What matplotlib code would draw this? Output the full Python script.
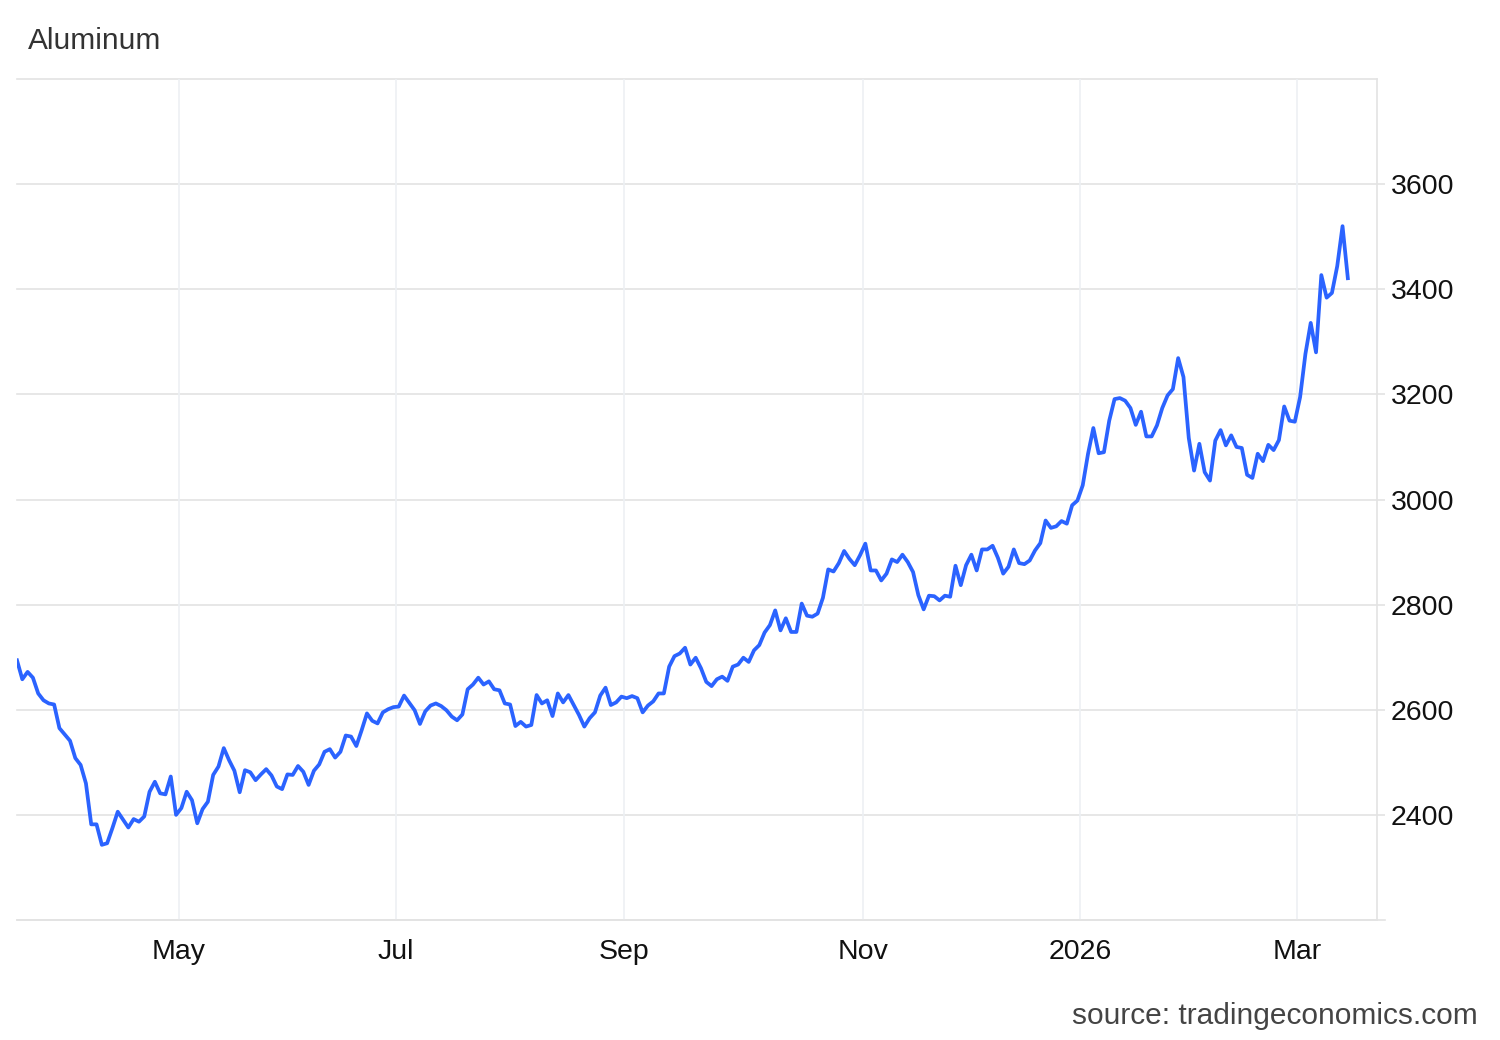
import matplotlib
matplotlib.use("Agg")
import matplotlib.pyplot as plt
import numpy as np
import pandas as pd

plt.rcParams['font.family'] = ['Liberation Sans', 'DejaVu Sans']

title = "Aluminum"
source = "source: tradingeconomics.com"

# trading days of the series (LME calendar, holidays removed)
start_date = "2025-03-17"
end_date = "2026-03-13"
holidays = ["2025-04-18", "2025-04-21", "2025-05-05", "2025-05-26",
            "2025-08-25", "2025-12-25", "2025-12-26", "2026-01-01"]

# USD/t, one value per trading day
prices = [
    2694, 2658, 2672, 2661, 2631, 2618, 2612, 2610, 2565, 2553,
    2541, 2508, 2495, 2460, 2382, 2382, 2343, 2346, 2375, 2406,
    2391, 2376, 2392, 2387, 2397, 2444, 2463, 2441, 2439, 2473,
    2400, 2413, 2444, 2428, 2384, 2411, 2425, 2476, 2492, 2527,
    2504, 2484, 2443, 2485, 2481, 2466, 2477, 2487, 2475, 2454,
    2449, 2477, 2476, 2493, 2482, 2457, 2484, 2496, 2520, 2525,
    2509, 2520, 2551, 2549, 2531, 2561, 2593, 2579, 2574, 2595,
    2601, 2605, 2606, 2627, 2613, 2599, 2573, 2597, 2608, 2612,
    2607, 2599, 2587, 2580, 2591, 2639, 2648, 2661, 2648, 2654,
    2639, 2637, 2612, 2610, 2569, 2577, 2568, 2571, 2628, 2612,
    2618, 2588, 2631, 2614, 2628, 2609, 2590, 2568, 2584, 2595,
    2627, 2642, 2609, 2614, 2625, 2622, 2626, 2622, 2595, 2608,
    2616, 2631, 2631, 2682, 2702, 2707, 2718, 2686, 2699, 2679,
    2653, 2645, 2658, 2663, 2655, 2682, 2686, 2699, 2691, 2713,
    2723, 2747, 2761, 2789, 2751, 2774, 2748, 2748, 2802, 2779,
    2777, 2783, 2813, 2867, 2863, 2879, 2902, 2887, 2875, 2894,
    2916, 2865, 2865, 2846, 2859, 2886, 2881, 2895, 2881, 2862,
    2818, 2791, 2817, 2816, 2808, 2817, 2815, 2874, 2837, 2875,
    2895, 2865, 2905, 2905, 2912, 2889, 2859, 2872, 2905, 2879,
    2877, 2884, 2903, 2917, 2960, 2946, 2949, 2959, 2954, 2989,
    2998, 3027, 3087, 3136, 3088, 3090, 3150, 3191, 3193, 3188,
    3174, 3142, 3167, 3120, 3120, 3141, 3174, 3198, 3210, 3269,
    3233, 3117, 3055, 3106, 3052, 3036, 3112, 3132, 3103, 3122,
    3100, 3098, 3047, 3041, 3087, 3073, 3104, 3094, 3113, 3177,
    3150, 3148, 3195, 3277, 3336, 3280, 3427, 3384, 3393, 3444,
    3520, 3421,
]

tick_months = ["2025-05-01", "2025-07-01", "2025-09-01",
               "2025-11-01", "2026-01-01", "2026-03-01"]
tick_labels = ["May", "Jul", "Sep", "Nov", "2026", "Mar"]

y_labels = [2400, 2600, 2800, 3000, 3200, 3400, 3600]
y_grid = [2200, 2400, 2600, 2800, 3000, 3200, 3400, 3600, 3800]

days = pd.bdate_range(start_date, end_date)
days = days[~days.isin(pd.to_datetime(holidays))]
x = np.arange(len(prices))
tick_pos = [np.searchsorted(days.values, np.datetime64(m)) - 0.5 for m in tick_months]

fig = plt.figure(figsize=(15, 10.4), dpi=100)
ax = fig.add_axes([17 / 1500, 1 - 920 / 1040, 1360 / 1500, 841 / 1040])

hgrid = "#e3e3e3"
vgrid = "#edf0f4"

for g in y_grid:
    ax.axhline(g, color=hgrid, lw=1.2, zorder=1, clip_on=False)
for t in tick_pos:
    ax.axvline(t, color=vgrid, lw=1.2, zorder=1)

ax.plot(x, prices, color="#2b63ff", lw=2.7, zorder=3, solid_joinstyle="round")

ax.set_xlim(0, 256.5)
ax.set_ylim(2200, 3800)

ax.set_xticks(tick_pos)
ax.set_xticklabels(tick_labels)
ax.tick_params(axis="x", length=0, pad=14, labelsize=20.5, labelcolor="#111111")

ax.yaxis.tick_right()
ax.set_yticks(y_labels)
ax.set_yticklabels([str(v) for v in y_labels])
ax.tick_params(axis="y", length=6, width=1.2, color=hgrid, pad=4,
               labelsize=20.5, labelcolor="#111111")

for side in ["top", "left"]:
    ax.spines[side].set_visible(False)
ax.spines["right"].set_color(hgrid)
ax.spines["right"].set_linewidth(1.2)
ax.spines["bottom"].set_color(hgrid)
ax.spines["bottom"].set_linewidth(1.2)
ax.spines["bottom"].set_bounds(0, 258)
ax.set_facecolor("white")

fig.text(28 / 1500, 1 - 41 / 1040, title, fontsize=21.5, color="#333333",
         ha="left", va="center")
fig.text(1478 / 1500, 1 - 1016 / 1040, source, fontsize=21.5, color="#444444",
         ha="right", va="center")

fig.savefig("out.png", dpi=100, facecolor="white")
